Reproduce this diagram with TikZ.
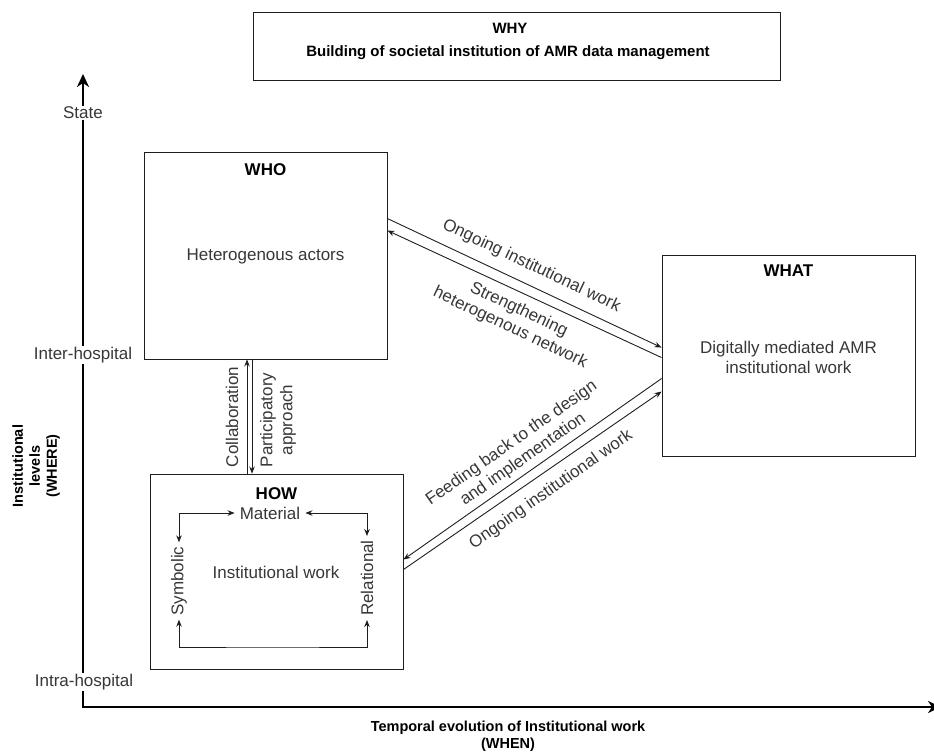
\documentclass[tikz,border=0pt]{standalone}
\usepackage{fontspec}
\setmainfont{Liberation Sans}
\usetikzlibrary{arrows.meta}
\definecolor{ink}{RGB}{55,55,55}
\definecolor{edge}{RGB}{30,30,30}
\begin{document}
\begin{tikzpicture}[x=1pt,y=-1pt,
  box/.style 2 args={draw=edge, line width=0.9pt, minimum width=#1pt, minimum height=#2pt, inner sep=0pt},
  lbl/.style={text=ink, font=\fontsize{17}{20}\selectfont, align=center, inner sep=2pt},
  ttl/.style={text=black, font=\bfseries\fontsize{17}{20}\selectfont, inner sep=1pt},
  whyfont/.style={text=black, font=\bfseries\fontsize{15}{18}\selectfont, inner sep=1pt},
  axlbl/.style={text=black, font=\bfseries\fontsize{14.5}{17}\selectfont, align=center, inner sep=1pt},
  tick/.style={lbl, fill=white, inner sep=1pt},
  tip/.tip={Stealth[length=7pt,width=5.5pt]},
  arr/.style={-tip, draw=edge, line width=0.9pt},
  dbl/.style={tip-tip, draw=edge, line width=0.9pt},
  axis/.style={line width=2.8pt, line join=miter,
    {Stealth[length=13pt,width=12pt,inset=4pt]}-{Stealth[length=13pt,width=12pt,inset=4pt]}}
]
\useasboundingbox (0,0) rectangle (934,755);

% axes
\coordinate (o) at (83,707);
\coordinate (ytop) at (83,74);
\coordinate (xend) at (941,707);
\draw[axis] (ytop) -- (o) -- (xend);

% levels on the vertical axis
\node[tick] (state) at (83,113) {State};
\node[tick] (inter) at (83,355) {Inter-hospital};
\node[tick] (intra) at (84,682) {Intra-hospital};

\node[axlbl, rotate=90] (where) at (36,466) {Institutional\\levels\\(WHERE)};
\node[axlbl] (when) at (508,736) {Temporal evolution of Institutional work\\(WHEN)};

% purpose box
\node[box={527}{68}] (why) at (516.5,46) {};
\node[whyfont] (whyt) at (510,28) {WHY};
\node[whyfont] (whys) at (508,53) {Building of societal institution of AMR data management};

% WHO
\node[box={243}{207}] (who) at (265.5,255.5) {};
\node[ttl] (whot) at (265.5,170) {WHO};
\node[lbl] (whoc) at (265.5,256) {Heterogenous actors};

% WHAT
\node[box={253}{201}] (what) at (788.5,355.5) {};
\node[ttl] (whatt) at (788.5,271) {WHAT};
\node[lbl] (whatc) at (788.5,357) {Digitally mediated AMR\\institutional work};

% HOW
\node[box={253}{195}] (how) at (276.5,571.5) {};
\node[ttl] (howt) at (276.5,494) {HOW};
\node[lbl, inner sep=5pt] (mat) at (270,513) {Material};
\node[lbl] (iw) at (276,572) {Institutional work};
\node[lbl, rotate=90, inner sep=4pt] (sym) at (179,581) {Symbolic};
\node[lbl, rotate=90, inner sep=4pt] (rel) at (367,578) {Relational};
\coordinate (hb) at (272,647);
\draw[dbl] (sym.east) |- (mat.west);
\draw[dbl] (mat.east) -| (rel.east);
\draw[dbl] (sym.west) |- (hb) -| (rel.west);

% WHO <-> HOW
\draw[arr] ([xshift=-29.5pt]how.north) -- ([xshift=-18.5pt]who.south);
\draw[arr] ([xshift=-13.5pt]who.south) -- ([xshift=-24.5pt]how.north);
\node[lbl, rotate=90] (collab) at (232,417) {Collaboration};
\node[lbl, rotate=90] (partic) at (278,420) {Participatory\\approach};

% WHO <-> WHAT
\draw[arr] ([yshift=-67pt]who.north east) -- ([yshift=-93pt]what.north west);
\draw[arr] ([yshift=-103pt]what.north west) -- ([yshift=-79pt]who.north east);
\node[lbl, rotate=-25.4] (ong1) at (531.5,266) {Ongoing institutional work};
\node[lbl, rotate=-25.4] (streng) at (514.5,319) {Strengthening\\heterogenous network};

% HOW <-> WHAT
\draw[arr] ([yshift=-124pt]what.north west) -- ([yshift=-86pt]how.north east);
\draw[arr] ([yshift=-96pt]how.north east) -- ([yshift=-137pt]what.north west);
\node[lbl, rotate=35] (feed) at (517.5,451.5) {Feeding back to the design\\and implementation};
\node[lbl, rotate=35] (ong2) at (551,490) {Ongoing institutional work};
\end{tikzpicture}
\end{document}
